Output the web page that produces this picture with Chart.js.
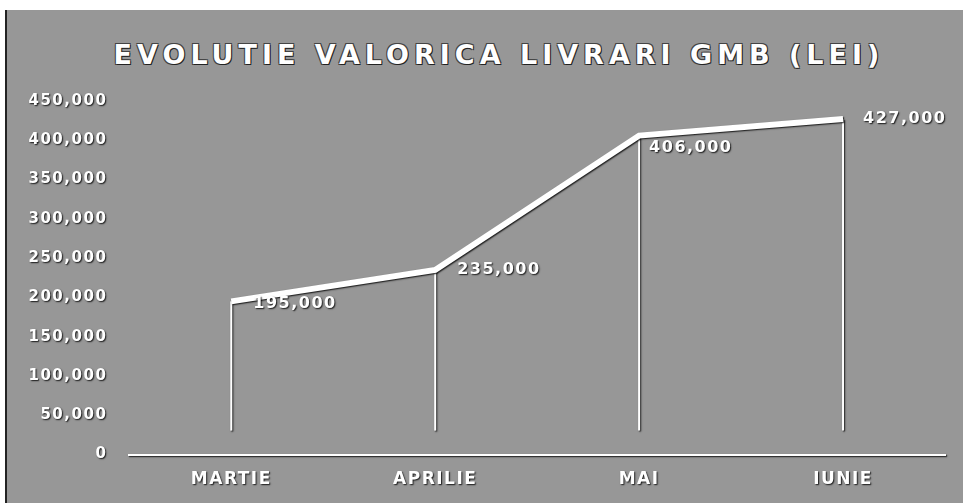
<!DOCTYPE html>
<html>
<head>
<meta charset="utf-8">
<script src="https://cdn.jsdelivr.net/npm/chart.js@4"></script>
<style>
  html, body { margin: 0; padding: 0; background: #fff; overflow: hidden; }
  #frame {
    position: absolute; left: 5px; top: 10px; width: 958px; height: 493px;
    background: #979797; border-left: 2px solid #222; box-sizing: border-box;
    overflow: hidden;
  }
  #title {
    position: absolute; left: 0; width: 100%; top: 29px; text-align: center;
    font-family: 'DejaVu Sans', sans-serif; font-weight: bold; font-size: 27px;
    letter-spacing: 5px; color: #fff; padding-left: 28px; box-sizing: border-box;
    text-shadow: 1px 1px 0 #222, -1px -1px 0 #444, 1px -1px 0 #444, -1px 1px 0 #444;
  }
  #wrap { position: absolute; left: 0; top: 0; width: 956px; height: 498px; }
</style>
</head>
<body>
<div id="frame">
  <div id="title">EVOLUTIE VALORICA LIVRARI GMB (LEI)</div>
  <div id="wrap"><canvas id="chart"></canvas></div>
</div>
<script>
// ---- data ----
const months = ['MARTIE', 'APRILIE', 'MAI', 'IUNIE'];
const deliveries = [195000, 235000, 406000, 427000];
const yTicks = [0, 50000, 100000, 150000, 200000, 250000, 300000, 350000, 400000, 450000];

const fmt = v => v.toLocaleString('en-US');

// white text with a dark halo, like the scanned original
const shadowText = {
  id: 'shadowText',
  beforeDraw(chart) {
    const ctx = chart.ctx;
    ctx.save();
    ctx.shadowColor = 'rgba(0,0,0,0.85)';
    ctx.shadowOffsetX = 1;
    ctx.shadowOffsetY = 1;
    ctx.shadowBlur = 1.5;
    ctx.letterSpacing = '1.5px';
  },
  afterDraw(chart) {
    chart.ctx.restore();
  },
};

// drop lines + value labels
const dropLines = {
  id: 'dropLines',
  beforeDatasetsDraw(chart) {
    const ctx = chart.ctx;
    const y = chart.scales.y;
    const meta = chart.getDatasetMeta(0);
    ctx.save();
    ctx.strokeStyle = '#fff';
    ctx.lineWidth = 2;
    meta.data.forEach(pt => {
      ctx.beginPath();
      ctx.moveTo(pt.x, pt.y);
      ctx.lineTo(pt.x, y.bottom - 24);
      ctx.stroke();
    });
    ctx.restore();
  },
  afterDatasetsDraw(chart) {
    const ctx = chart.ctx;
    const meta = chart.getDatasetMeta(0);
    const offs = [[22, 2], [22, 0], [10, 12], [20, 0]];
    ctx.save();
    ctx.font = "bold 16px 'DejaVu Sans', sans-serif";
    ctx.fillStyle = '#fff';
    ctx.textAlign = 'left';
    ctx.textBaseline = 'middle';
    meta.data.forEach((pt, i) => {
      ctx.fillText(fmt(deliveries[i]), pt.x + offs[i][0], pt.y + offs[i][1]);
    });
    ctx.restore();
  },
};

new Chart(document.getElementById('chart'), {
  type: 'line',
  data: {
    labels: months,
    datasets: [{
      data: deliveries,
      borderColor: '#fff',
      borderWidth: 6,
      pointRadius: 0,
      tension: 0,
      fill: false,
    }],
  },
  options: {
    responsive: true,
    maintainAspectRatio: false,
    animation: false,
    layout: { padding: { top: 91, right: 18, left: 10, bottom: 3 } },
    plugins: {
      legend: { display: false },
      tooltip: { enabled: false },
      title: { display: false },
    },
    scales: {
      x: {
        offset: true,
        grid: { display: false, drawTicks: false },
        border: { display: true, color: '#fff', width: 2 },
        ticks: {
          color: '#fff',
          padding: 15,
          font: { family: "'DejaVu Sans', sans-serif", weight: 'bold', size: 17 },
        },
      },
      y: {
        min: 0,
        max: 450000,
        afterBuildTicks: axis => { axis.ticks = yTicks.map(v => ({ value: v })); },
        grid: { display: false, drawTicks: false },
        border: { display: false },
        ticks: {
          color: '#fff',
          padding: 22,
          callback: v => fmt(v),
          font: { family: "'DejaVu Sans', sans-serif", weight: 'bold', size: 15 },
        },
      },
    },
  },
  plugins: [shadowText, dropLines],
});
</script>
</body>
</html>
